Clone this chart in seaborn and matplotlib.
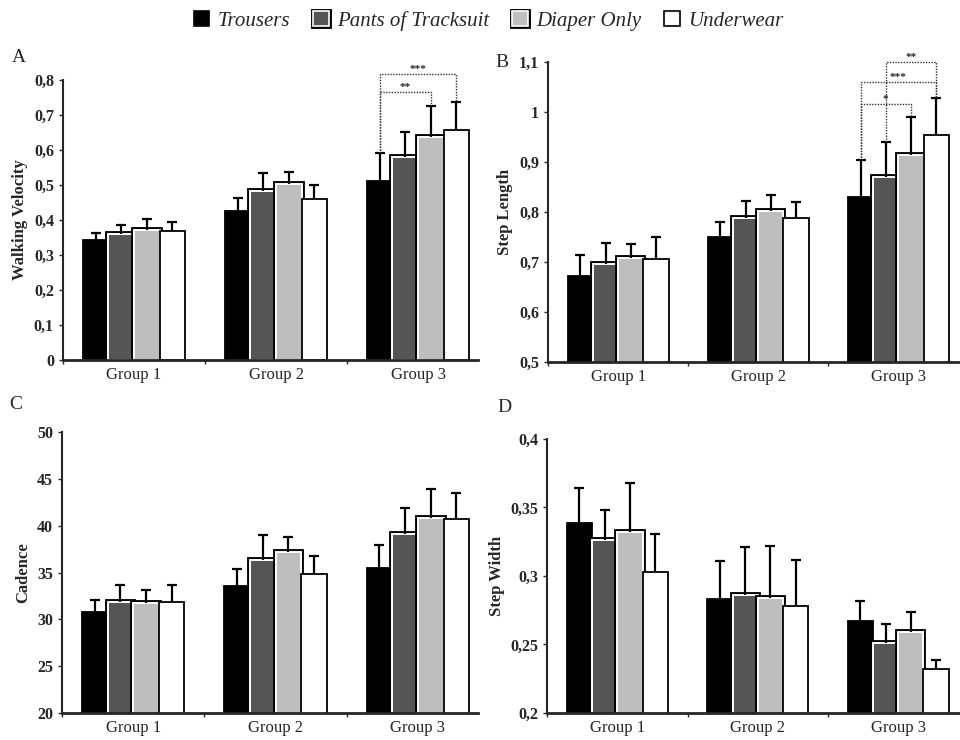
import pandas as pd
import seaborn as sns
import matplotlib.pyplot as plt
import matplotlib.patheffects as pe
from matplotlib.patches import Patch
from matplotlib.ticker import FuncFormatter

groups = ['Group 1', 'Group 2', 'Group 3']
conditions = ['Trousers', 'Pants of Tracksuit', 'Diaper Only', 'Underwear']
colors = ['#000000', '#555555', '#bebebe', '#ffffff']

# means and (upper) error per condition, one value per group
velocity_mean = [[0.343, 0.425, 0.511], [0.360, 0.482, 0.579],
                 [0.371, 0.502, 0.637], [0.369, 0.461, 0.657]]
velocity_sd = [[0.021, 0.037, 0.079], [0.026, 0.051, 0.072],
               [0.032, 0.034, 0.088], [0.025, 0.038, 0.079]]

steplen_mean = [[0.671, 0.750, 0.831], [0.696, 0.788, 0.870],
                [0.708, 0.803, 0.914], [0.706, 0.789, 0.954]]
steplen_sd = [[0.043, 0.030, 0.073], [0.042, 0.034, 0.070],
              [0.027, 0.031, 0.076], [0.043, 0.031, 0.075]]

cadence_mean = [[30.78, 33.52, 35.52], [31.85, 36.30, 39.11],
                [31.74, 37.22, 40.82], [31.85, 34.88, 40.71]]
cadence_sd = [[1.32, 1.89, 2.45], [1.78, 2.67, 2.74],
              [1.43, 1.61, 3.13], [1.85, 1.92, 2.78]]

stepwid_mean = [[0.339, 0.283, 0.267], [0.326, 0.286, 0.251],
                [0.332, 0.284, 0.259], [0.303, 0.278, 0.232]]
stepwid_sd = [[0.025, 0.028, 0.015], [0.022, 0.035, 0.014],
              [0.036, 0.038, 0.015], [0.028, 0.034, 0.007]]

# significance brackets in Group 3: (from, to, level, stars)
velocity_sig = [(0, 2, 0.766, '**'), (0, 3, 0.818, '***')]
steplen_sig = [(0, 2, 1.016, '*'), (0, 3, 1.060, '***'), (1, 3, 1.100, '**')]

sns.set_style('ticks')
plt.rcParams['font.family'] = ['Liberation Serif', 'DejaVu Serif']

fig = plt.figure(figsize=(9.6, 7.4), dpi=100)


def make_df(mean, sd):
    rows = []
    for ci, c in enumerate(conditions):
        for gi, g in enumerate(groups):
            rows.append({'group': g, 'condition': c,
                         'mean': mean[ci][gi], 'sd': sd[ci][gi]})
    return pd.DataFrame(rows)


double_edge = [pe.Stroke(linewidth=4.2, foreground='black'), pe.Normal()]


def panel(rect, mean, sd, ylim, yticks, ylabel, letter, letter_xy, xmax, sig=None):
    ax = fig.add_axes(rect)
    df = make_df(mean, sd)
    sns.barplot(data=df, x='group', y='mean', hue='condition', order=groups,
                hue_order=conditions, palette=colors, width=0.72, gap=0,
                errorbar=None, legend=False, ax=ax, edgecolor='black',
                linewidth=1.3, saturation=1)
    bar_sets = list(ax.containers[:len(conditions)])
    tops = {}
    for ci, cont in enumerate(bar_sets):
        for gi, bar in enumerate(cont.patches):
            bar.set_zorder(2)
            if ci in (1, 2):
                bar.set_edgecolor('white')
                bar.set_linewidth(1.4)
                bar.set_path_effects(double_edge)
            x = bar.get_x() + bar.get_width() / 2
            m = mean[ci][gi]
            s = sd[ci][gi]
            _, caps, _ = ax.errorbar(x, m, yerr=[[0], [s]], fmt='none',
                                     ecolor='black', elinewidth=1.6,
                                     capsize=3.8, capthick=1.6, zorder=3)
            caps[0].set_visible(False)
            tops[(ci, gi)] = (x, m + s)

    if sig:
        for a, b, level, stars in sig:
            xa, ya = tops[(a, 2)]
            xb, yb = tops[(b, 2)]
            ax.plot([xa, xa, xb, xb], [ya, level, level, yb], ls=(0, (1, 1)),
                    color='#333333', lw=1.0, clip_on=False, zorder=4)
            ax.text((xa + xb) / 2, level, stars, ha='center', va='bottom',
                    fontsize=8, fontweight='bold', clip_on=False)

    ax.set_ylim(*ylim)
    ax.set_yticks(yticks)
    ax.yaxis.set_major_formatter(
        FuncFormatter(lambda v, p: f'{v:g}'.replace('.', ',')))
    ax.set_xlim(-0.5, xmax)
    ax.set_xticks([-0.5, 0.5, 1.5], labels=[])
    ax.set_xticks([0, 1, 2], labels=groups, minor=True)
    ax.tick_params(axis='x', which='minor', length=0, labelsize=12, pad=5)
    ax.tick_params(axis='x', which='major', length=3, width=1)
    ax.tick_params(axis='y', length=3, width=1, labelsize=11.5)
    for t in ax.get_yticklabels():
        t.set_fontweight('bold')
    ax.set_xlabel('')
    ax.set_ylabel(ylabel, fontsize=12, fontweight='bold', labelpad=4)
    sns.despine(ax=ax)
    ax.spines['left'].set_linewidth(1.5)
    ax.spines['bottom'].set_linewidth(2)
    ax.set_facecolor('white')
    fig.text(letter_xy[0], letter_xy[1], letter, fontsize=14, ha='left',
             va='center')
    return ax


panel([0.0656, 0.5135, 0.432, 0.3785], velocity_mean, velocity_sd, (0, 0.8),
      [0, 0.1, 0.2, 0.3, 0.4, 0.5, 0.6, 0.7, 0.8], 'Walking Velocity', 'A',
      (0.012, 0.922), 2.42, velocity_sig)
panel([0.571, 0.511, 0.429, 0.405], steplen_mean, steplen_sd, (0.5, 1.1),
      [0.5, 0.6, 0.7, 0.8, 0.9, 1.0, 1.1], 'Step Length', 'B',
      (0.516, 0.916), 2.44, steplen_sig)
panel([0.0646, 0.0365, 0.433, 0.3797], cadence_mean, cadence_sd, (20, 50),
      [20, 25, 30, 35, 40, 45, 50], 'Cadence', 'C', (0.010, 0.453), 2.42)
panel([0.570, 0.0365, 0.43, 0.3703], stepwid_mean, stepwid_sd, (0.2, 0.4),
      [0.2, 0.25, 0.3, 0.35, 0.4], 'Step Width', 'D', (0.518, 0.449), 2.44)

handles = []
for ci, c in enumerate(conditions):
    h = Patch(facecolor=colors[ci], edgecolor='white' if ci in (1, 2) else 'black',
              linewidth=1.2)
    if ci in (1, 2):
        h.set_path_effects([pe.Stroke(linewidth=3.5, foreground='black'),
                            pe.Normal()])
    handles.append(h)
fig.legend(handles, conditions, loc='center', bbox_to_anchor=(0.509, 0.972),
           ncol=4, frameon=False, prop={'style': 'italic', 'size': 15},
           handlelength=0.75, handleheight=0.75, handletextpad=0.4,
           columnspacing=1.1)

fig.savefig('out.png', dpi=100, facecolor='white')
